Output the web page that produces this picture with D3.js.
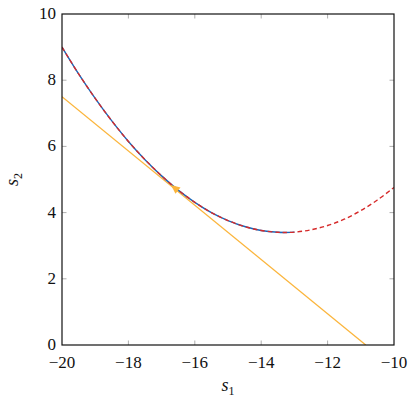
<!DOCTYPE html>
<html>
<head>
<meta charset="utf-8">
<script src="https://cdn.jsdelivr.net/npm/d3@7"></script>
<style>
  body { margin: 0; background: #fff; }
  text { font-family: "Liberation Serif", "DejaVu Serif", serif; fill: #111; }
</style>
</head>
<body>
<script>
// values
var xTicks = [-20, -18, -16, -14, -12, -10];
var yTicks = [0, 2, 4, 6, 8, 10];

// red dashed curve (whole range)
var curveX = [-20, -19.5, -19, -18.5, -18, -17.5, -17, -16.5, -16, -15.5, -15, -14.5, -14, -13.5, -13.3, -13, -12.5, -12, -11.5, -11, -10.5, -10];
var curveY = [9.00, 8.19, 7.45, 6.77, 6.15, 5.60, 5.11, 4.68, 4.31, 4.00, 3.76, 3.58, 3.46, 3.405, 3.40, 3.41, 3.48, 3.61, 3.80, 4.06, 4.38, 4.76];
// blue solid part stops near the minimum
var blueEndX = -13;

// orange tangent line and its arrow point
var lineX = [-20, -10.85];
var lineY = [7.5, 0];
var arrowX = -16.6, arrowY = 4.74;

var width = 417, height = 401;
var pL = 62, pR = 394, pT = 14, pB = 345;

var svg = d3.select("body").append("svg")
  .attr("width", width).attr("height", height);

var x = d3.scaleLinear().domain([-20, -10]).range([pL, pR]);
var y = d3.scaleLinear().domain([0, 10]).range([pB, pT]);

svg.append("clipPath").attr("id", "clip")
  .append("rect").attr("x", pL).attr("y", pT)
  .attr("width", pR - pL).attr("height", pB - pT);

var curveData = curveX.map(function(d, i) { return [d, curveY[i]]; });
var blueData = curveData.filter(function(d) { return d[0] <= blueEndX; });

var line = d3.line()
  .x(function(d) { return x(d[0]); })
  .y(function(d) { return y(d[1]); })
  .curve(d3.curveCatmullRom);

var plot = svg.append("g").attr("clip-path", "url(#clip)");

// orange line
plot.append("path")
  .datum(lineX.map(function(d, i) { return [d, lineY[i]]; }))
  .attr("d", d3.line().x(function(d) { return x(d[0]); }).y(function(d) { return y(d[1]); }))
  .attr("fill", "none").attr("stroke", "#fbb53c").attr("stroke-width", 1.3);

// blue solid part
plot.append("path").datum(blueData).attr("d", line)
  .attr("fill", "none").attr("stroke", "#1a66b8").attr("stroke-width", 1.4);

// red dashed curve
plot.append("path").datum(curveData).attr("d", line)
  .attr("fill", "none").attr("stroke", "#d62a2a").attr("stroke-width", 1.4)
  .attr("stroke-dasharray", "4.5,3");

// arrow head at the tangent point, pointing back along the line
var ang = Math.atan2(y(lineY[0]) - y(lineY[1]), x(lineX[0]) - x(lineX[1])) * 180 / Math.PI;
svg.append("path")
  .attr("d", "M5,0 L-4,4 L-4,-4 Z")
  .attr("fill", "#fbb53c")
  .attr("transform", "translate(" + x(arrowX) + "," + y(arrowY) + ") rotate(" + ang + ")");

// ticks on all four sides, pointing in
var tl = 4.5;
var tg = svg.append("g").attr("stroke", "#999").attr("stroke-width", 0.8);
xTicks.slice(1, -1).forEach(function(t) {
  tg.append("line").attr("x1", x(t)).attr("x2", x(t)).attr("y1", pB).attr("y2", pB - tl);
  tg.append("line").attr("x1", x(t)).attr("x2", x(t)).attr("y1", pT).attr("y2", pT + tl);
});
yTicks.slice(1, -1).forEach(function(t) {
  tg.append("line").attr("y1", y(t)).attr("y2", y(t)).attr("x1", pL).attr("x2", pL + tl);
  tg.append("line").attr("y1", y(t)).attr("y2", y(t)).attr("x1", pR).attr("x2", pR - tl);
});

// frame
svg.append("rect").attr("x", pL).attr("y", pT)
  .attr("width", pR - pL).attr("height", pB - pT)
  .attr("fill", "none").attr("stroke", "#111").attr("stroke-width", 1.2);

// tick labels
svg.append("g").selectAll("text").data(xTicks).join("text")
  .attr("x", function(d) { return x(d); }).attr("y", pB + 23)
  .attr("text-anchor", "middle").style("font-size", "17px")
  .text(function(d) { return d < 0 ? "\u2212" + Math.abs(d) : d; });

svg.append("g").selectAll("text").data(yTicks).join("text")
  .attr("x", pL - 6).attr("y", function(d) { return y(d) + 5; })
  .attr("text-anchor", "end").style("font-size", "17px")
  .text(function(d) { return d; });

// axis titles
var xt = svg.append("text").attr("x", (pL + pR) / 2).attr("y", pB + 46)
  .attr("text-anchor", "middle").style("font-size", "18px");
xt.append("tspan").style("font-style", "italic").text("s");
xt.append("tspan").attr("dy", 4).style("font-size", "12px").text("1");

var yt = svg.append("text")
  .attr("transform", "translate(18," + ((pT + pB) / 2) + ") rotate(-90)")
  .attr("text-anchor", "middle").style("font-size", "18px");
yt.append("tspan").style("font-style", "italic").text("s");
yt.append("tspan").attr("dy", 4).style("font-size", "12px").text("2");
</script>
</body>
</html>
